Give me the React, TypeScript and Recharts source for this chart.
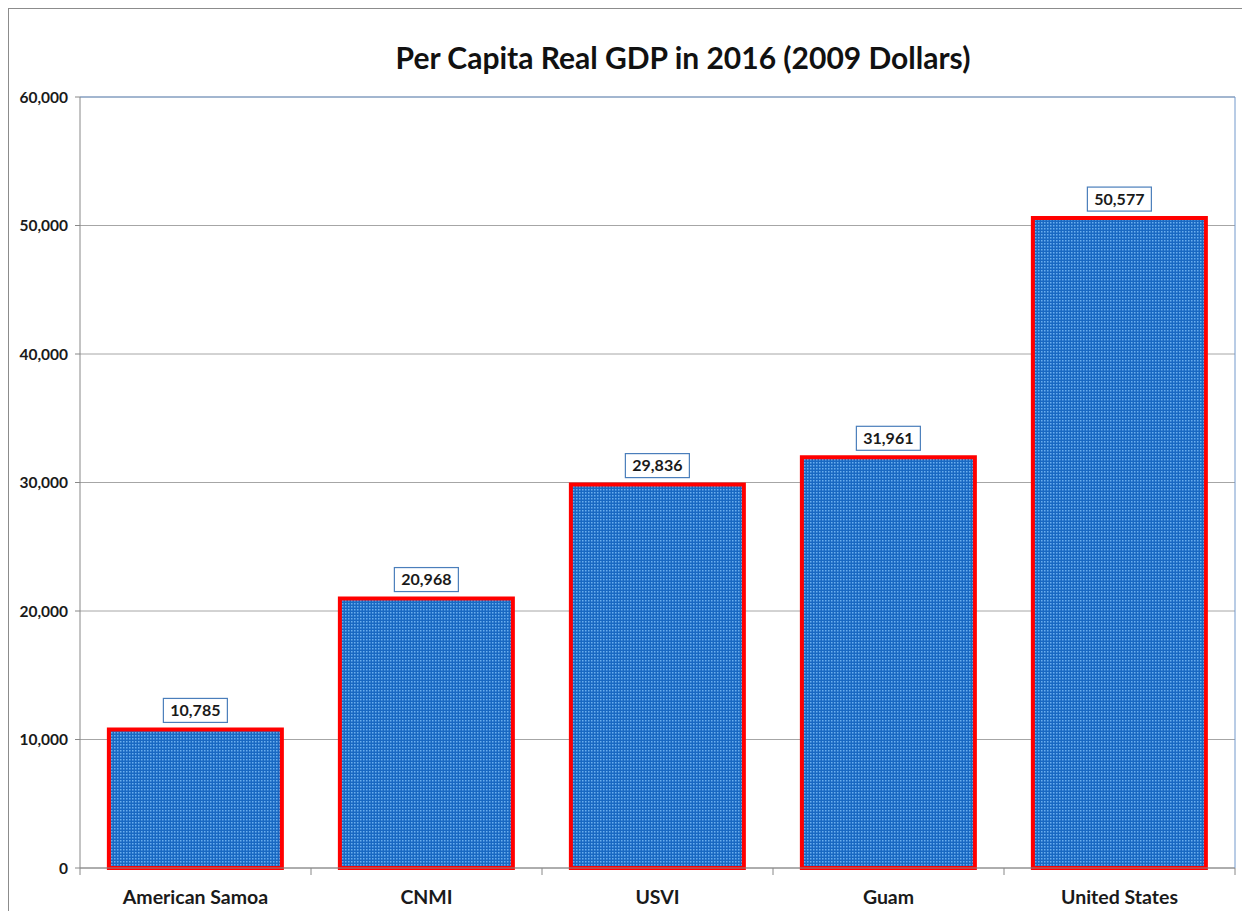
import { BarChart, Bar, XAxis, YAxis, CartesianGrid, LabelList, ReferenceLine } from "recharts";

const categories = ["American Samoa", "CNMI", "USVI", "Guam", "United States"];
const gdpPerCapita = [10785, 20968, 29836, 31961, 50577];
const yTicks = [0, 10000, 20000, 30000, 40000, 50000, 60000];

const data = categories.map((name, i) => ({ name, value: gdpPerCapita[i] }));

const FONT = "Lato, 'DejaVu Sans', sans-serif";
const PLOT_W = 1155;
const HALF_BAND = PLOT_W / categories.length / 2;

// category labels with Excel-style tick marks on the category boundaries
const XTick = (props: any) => {
  const { x, y, payload, index } = props;
  const isLast = index === categories.length - 1;
  return (
    <g>
      <line x1={x - HALF_BAND} y1={y} x2={x - HALF_BAND} y2={y + 7} stroke="#888" />
      {isLast && <line x1={x + HALF_BAND} y1={y} x2={x + HALF_BAND} y2={y + 7} stroke="#888" />}
      <text x={x} y={y + 36} textAnchor="middle" fontFamily={FONT} fontWeight={700} fontSize={19.5} fill="#1a1a1a">
        {payload.value}
      </text>
    </g>
  );
};

// boxed data label above each bar
const ValueBox = (props: any) => {
  const { x, y, width, value } = props;
  const cx = x + width / 2;
  const w = 64;
  const h = 24;
  const top = y - h - 7;
  return (
    <g>
      <rect x={cx - w / 2} y={top} width={w} height={h} fill="#fff" stroke="#4a7ebb" strokeWidth={1.2} />
      <text x={cx} y={top + h / 2} dy="0.36em" textAnchor="middle" fontFamily={FONT} fontWeight={700} fontSize={16} fill="#1a1a1a">
        {Number(value).toLocaleString("en-US")}
      </text>
    </g>
  );
};

const App = () => {
  return (
    <div
      style={{
        position: "relative",
        width: 1242,
        height: 903,
        boxSizing: "border-box",
        borderTop: "1px solid #8c8c8c",
        borderLeft: "1px solid #8c8c8c",
        background: "#fff",
      }}
    >
      <div
        style={{
          position: "absolute",
          left: 674,
          top: 31,
          transform: "translateX(-50%)",
          whiteSpace: "nowrap",
          fontFamily: FONT,
          fontWeight: 700,
          fontSize: 30,
          lineHeight: "34px",
          color: "#111",
        }}
      >
        Per Capita Real GDP in 2016 (2009 Dollars)
      </div>
      <BarChart
        width={1241}
        height={902}
        data={data}
        margin={{ top: 88, right: 14, bottom: 3, left: 9 }}
        barCategoryGap="12.5%"
      >
        <defs>
          <pattern id="dots" width="3" height="3" patternUnits="userSpaceOnUse">
            <rect width="3" height="3" fill="#1968c2" />
            <rect width="1.5" height="1.5" fill="#6aaeee" />
          </pattern>
        </defs>
        <CartesianGrid vertical={false} stroke="#a6a6a6" />
        <XAxis
          dataKey="name"
          height={40}
          tickSize={0}
          tickMargin={0}
          tickLine={false}
          axisLine={{ stroke: "#888" }}
          tick={<XTick />}
          interval={0}
        />
        <YAxis
          width={62}
          domain={[0, 60000]}
          ticks={yTicks}
          tickSize={5}
          tickMargin={7}
          tickLine={{ stroke: "#888" }}
          axisLine={{ stroke: "#888" }}
          tickFormatter={(v: number) => v.toLocaleString("en-US")}
          tick={{ fontFamily: FONT, fontWeight: 700, fontSize: 15.5, fill: "#1a1a1a" }}
        />
        <YAxis
          yAxisId="right"
          orientation="right"
          width={1}
          domain={[0, 60000]}
          tick={false}
          tickLine={false}
          axisLine={{ stroke: "#7399cc" }}
        />
        <ReferenceLine y={60000} stroke="#7399cc" />
        <Bar dataKey="value" fill="url(#dots)" stroke="#ff0000" strokeWidth={4} isAnimationActive={false}>
          <LabelList dataKey="value" content={<ValueBox />} />
        </Bar>
      </BarChart>
    </div>
  );
};

export default App;
